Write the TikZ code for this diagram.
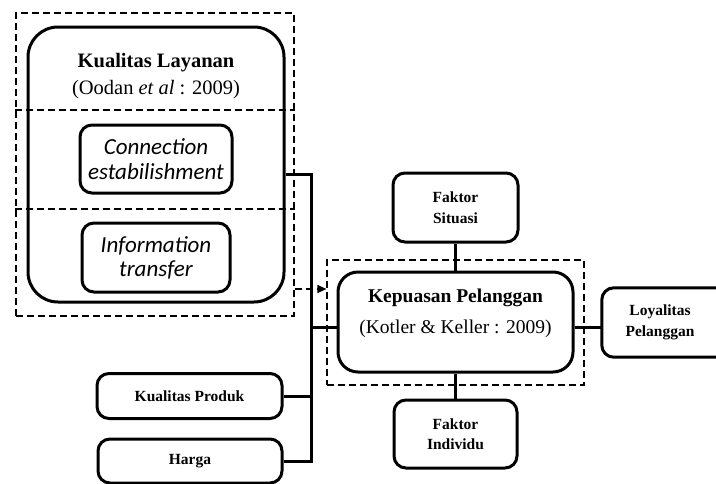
\documentclass[tikz,border=0pt]{standalone}
\usepackage{fontspec}
\setmainfont{Liberation Serif}
\newfontfamily\itbox{Carlito}
\usetikzlibrary{arrows.meta}

\tikzset{
  solidbox/.style={draw, line width=3pt, rounded corners=12pt, align=center, inner sep=0pt},
  dashbox/.style={draw, line width=1.2pt, dash pattern=on 7pt off 4pt, inner sep=0pt},
  dashline/.style={line width=1.2pt, dash pattern=on 7pt off 4pt},
  link/.style={line width=3pt},
  smalltext/.style={font=\fontsize{15.5}{20.5}\selectfont\bfseries},
}

\begin{document}
\begin{tikzpicture}[x=1pt, y=-1pt]
\useasboundingbox (0,0) rectangle (716,483);

% Kualitas Layanan
\node[dashbox, minimum width=278pt, minimum height=303pt] (layananbox) at (155,164.5) {};
\draw[dashline] (layananbox.west |- 0,110) -- (layananbox.east |- 0,110);
\draw[dashline] (layananbox.west |- 0,209) -- (layananbox.east |- 0,209);
\node[solidbox, rounded corners=30pt, minimum width=256pt, minimum height=275pt] (layanan) at (156,164.5) {};
\node[align=center, font=\fontsize{20.5}{27.5}\selectfont] (layanantitle) at (156,76)
  {\textbf{Kualitas Layanan}\\(Oodan \textit{et al} : 2009)};
\node[solidbox, minimum width=152pt, minimum height=68pt, font=\itbox\itshape\fontsize{23}{25}\selectfont] (connection) at (156,159)
  {Connection\\estabilishment};
\node[solidbox, minimum width=148pt, minimum height=69pt, font=\itbox\itshape\fontsize{23}{24}\selectfont] (information) at (156,257.5)
  {Information\\transfer};

% Kepuasan Pelanggan
\node[dashbox, minimum width=257pt, minimum height=125pt] (kepuasanbox) at (455.5,322.5) {};
\node[solidbox, rounded corners=20pt, minimum width=235pt, minimum height=100pt] (kepuasan) at (455.5,322) {};
\node[align=center, font=\fontsize{19.5}{31}\selectfont] (kepuasantitle) at (455.5,313)
  {\textbf{Kepuasan Pelanggan}\\(Kotler \& Keller : 2009)};

% faktor lain
\node[solidbox, smalltext, minimum width=125pt, minimum height=69pt] (situasi) at (455.5,207.5) {Faktor\\Situasi};
\node[solidbox, smalltext, minimum width=123pt, minimum height=68pt] (individu) at (455.5,434) {Faktor\\Individu};
\node[smalltext, align=center, minimum width=116pt, minimum height=69pt] (loyalitas) at (660,322.5) {Loyalitas\\Pelanggan};
\draw[link, rounded corners=12pt] (loyalitas.north west) rectangle ([xshift=30pt]loyalitas.south east);
\node[solidbox, smalltext, minimum width=185pt, minimum height=45pt] (produk) at (189.5,396) {Kualitas Produk};
\node[solidbox, smalltext, minimum width=184pt, minimum height=44pt] (harga) at (190,461) {Harga};

% garis penghubung
\coordinate (bustop) at (311,174);
\coordinate (busbot) at (311,461);
\coordinate (kpline) at (0,327);
\draw[link] (layanan.east |- bustop) -- (bustop) -- (busbot) -- (harga.east);
\draw[link] (produk.east) -- (bustop |- produk.east);
\draw[link] (bustop |- kpline) -- (kepuasan.west |- kpline);
\draw[link] (kepuasan.east |- kpline) -- (loyalitas.west |- kpline);
\draw[link] (situasi.south) -- (kepuasan.north);
\draw[link] (kepuasan.south) -- (individu.north);
\draw[dashline, -{Triangle[length=9pt, width=8pt]}] (layananbox.east |- 0,289) -- (kepuasanbox.west |- 0,289);

\end{tikzpicture}
\end{document}
